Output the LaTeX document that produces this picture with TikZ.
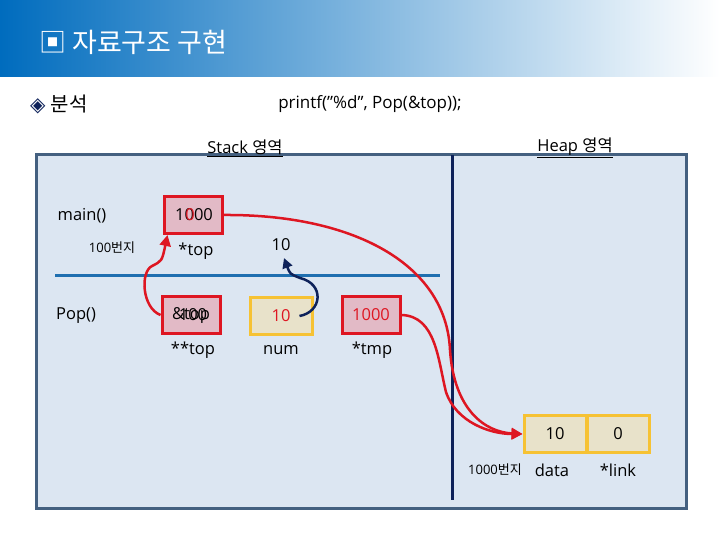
\documentclass[tikz,border=0pt]{standalone}
\usepackage{fontspec}
\setmainfont{Open Sans}
\newfontfamily\kr{Noto Sans CJK KR}
\newfontfamily\symf{DejaVu Sans}
\usetikzlibrary{arrows.meta}

\definecolor{panelfill}{RGB}{220,230,242}
\definecolor{panelline}{RGB}{68,96,128}
\definecolor{navy}{RGB}{14,34,90}
\definecolor{stackline}{RGB}{31,111,176}
\definecolor{ptrred}{RGB}{222,22,34}
\definecolor{ptrfill}{RGB}{226,186,198}
\definecolor{valline}{RGB}{246,194,52}
\definecolor{valfill}{RGB}{232,226,202}
\definecolor{titleblue}{RGB}{0,108,190}
\definecolor{titlemid}{RGB}{176,200,234}

\tikzset{
  ptrbox/.style={draw=ptrred, fill=ptrfill, line width=3pt, minimum width=58pt, minimum height=37pt, inner sep=0pt},
  valbox/.style={draw=valline, fill=valfill, line width=3pt, minimum width=62pt, minimum height=37pt, inner sep=0pt},
  lbl/.style={inner sep=0pt, font=\fontsize{16.5}{18}\selectfont},
  small/.style={inner sep=0pt, font=\fontsize{13}{15}\selectfont},
  redarrow/.style={draw=ptrred, line width=2.5pt, -{Triangle[length=11pt,width=11pt]}},
  navyarrow/.style={draw=navy, line width=2.5pt, -{Triangle[length=10pt,width=10pt]}},
}

\begin{document}
\begin{tikzpicture}[x=1pt,y=-1pt]
\useasboundingbox (0,0) rectangle (720,540);
\fill[white] (0,0) rectangle (720,540);

% title bar
\shade[left color=titleblue, middle color=titlemid, right color=white] (0,0) rectangle (720,77);
\node[anchor=west, text=white, inner sep=0pt, font=\fontsize{27}{30}\selectfont\kr] (title) at (39,42) {▣ 자료구조 구현};
\node[anchor=west, inner sep=0pt, font=\fontsize{20}{22}\selectfont] (sub) at (30,104) {{\symf\color{navy}◈} {\kr 분석}};
\node[inner sep=0pt, font=\fontsize{17}{19}\selectfont] (call) at (370,104) {printf("\%d", Pop(\&top));};

% memory panel
\draw[panelline, fill=panelfill, line width=3pt] (36,155) rectangle (686,508);
\draw[navy, line width=3pt] (452,155) -- (452,500);
\draw[stackline, line width=3pt] (55,275) -- (440,275);
\node[lbl] (stackhd) at (245,148) {\underline{Stack {\kr 영역}}};
\node[lbl] (heaphd) at (575,148) {\underline{Heap {\kr 영역}}};

% stack frames
\node[lbl] (mainfn) at (82,216) {main()};
\node[small] (addr100) at (112,248) {100{\kr 번지}};
\node[lbl] (popfn) at (76,316) {Pop()};

\node[ptrbox] (mainptr) at (193,215) {};
\node[lbl] (mainval) at (194,215) {1000};
\node[lbl, text=ptrred] (mainold) at (190,215) {0};
\node[lbl] (mainlbl) at (196,251) {*top};
\node[lbl] (retval) at (281,245) {10};

\node[ptrbox] (popptr) at (191,315) {};
\node[lbl] (popval) at (191,315) {\&top};
\node[lbl] (popold) at (193,315) {100};
\node[lbl] (poplbl) at (193,350) {**top};

\node[valbox] (numbox) at (281,316) {};
\node[lbl, text=ptrred] (numval) at (281,316) {10};
\node[lbl] (numlbl) at (281,350) {num};

\node[ptrbox] (tmpbox) at (371,315) {};
\node[lbl, text=ptrred] (tmpval) at (371,315) {1000};
\node[lbl] (tmplbl) at (372,350) {*tmp};

% heap node
\node[valbox] (databox) at (555,434) {};
\node[lbl] (dataval) at (555,434) {10};
\node[valbox] (linkbox) at (618,434) {};
\node[lbl] (linkval) at (618,434) {0};
\node[small] (addr1000) at (495,470) {1000{\kr 번지}};
\node[lbl] (datalbl) at (552,470) {data};
\node[lbl] (linklbl) at (618,470) {*link};

% pointers
\draw[redarrow] (popptr.west) .. controls (142,308) and (140,272) .. (152,266)
  .. controls (162,261) .. ([xshift=5pt]mainptr.south west);
\draw[navyarrow] ([xshift=-14pt]numbox.east) .. controls (322,312) and (325,284) .. (300,278)
  .. controls (290,274) .. (284,258);
\draw[redarrow] (mainptr.east) .. controls (350,214) and (446,262) .. (450,350)
  .. controls (454,410) and (485,432) .. (databox.west);
\draw[redarrow] (tmpbox.east) .. controls (436,316) and (438,360) .. (446,392)
  .. controls (456,422) and (490,434) .. (databox.west);
\end{tikzpicture}
\end{document}
